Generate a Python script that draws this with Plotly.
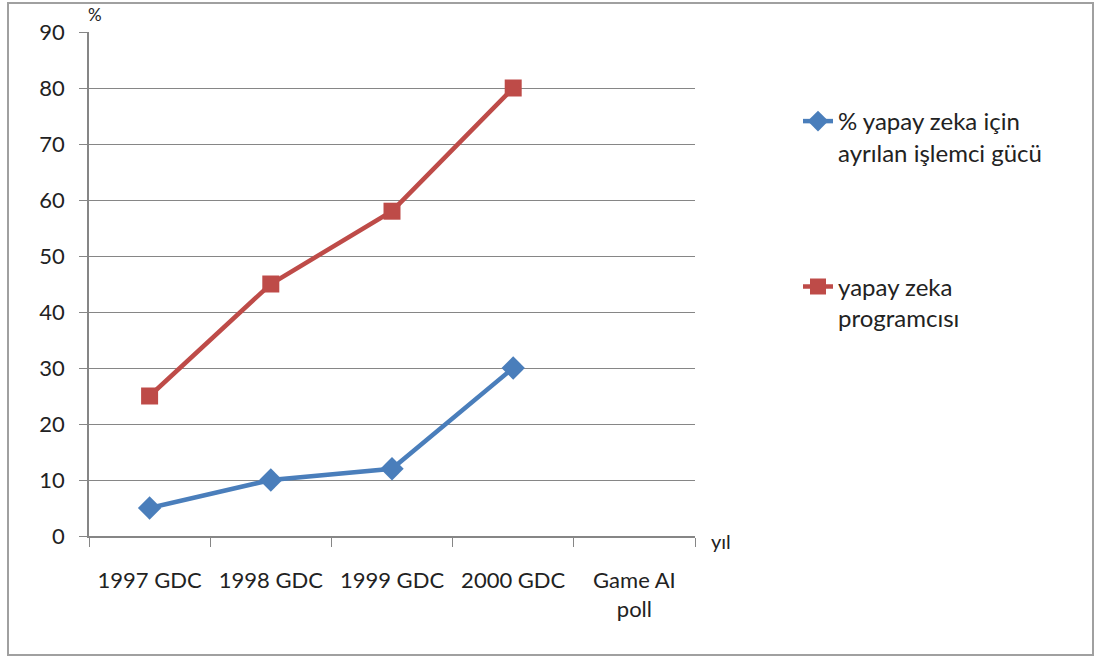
import plotly.graph_objects as go

categories = ["1997 GDC", "1998 GDC", "1999 GDC", "2000 GDC", "Game AI<br>poll"]
cpu_share = [5, 10, 12, 30, None]
ai_programmers = [25, 45, 58, 80, None]
y_ticks = [0, 10, 20, 30, 40, 50, 60, 70, 80, 90]

FONT = "Lato"
TXT = "#222222"

fig = go.Figure()
fig.add_trace(go.Scatter(
    x=categories, y=cpu_share, mode="lines+markers",
    name="% yapay zeka için<br>ayrılan işlemci gücü",
    line=dict(color="#4a7ebb", width=4.5),
    marker=dict(symbol="diamond", size=18, color="#4a7ebb"),
    legendgroup="a",
))
fig.add_trace(go.Scatter(
    x=categories, y=ai_programmers, mode="lines+markers",
    name="yapay zeka<br>programcısı",
    line=dict(color="#be4b48", width=4.5),
    marker=dict(symbol="square", size=17, color="#be4b48"),
    legendgroup="b",
))

L, R, T, B = 89, 695, 32, 536
W, H = 1097, 661
pw, ph = R - L, B - T

def px(x):
    return (x - L) / pw

def py(y):
    return (B - y) / ph

fig.update_layout(
    width=W, height=H,
    margin=dict(l=L, r=W - R, t=T, b=H - B),
    paper_bgcolor="white", plot_bgcolor="white",
    font=dict(family=FONT, size=22, color=TXT),
    showlegend=True,
    legend=dict(
        x=px(798), y=py(99), xanchor="left", yanchor="top",
        tracegroupgap=100, font=dict(size=24, family=FONT, color=TXT),
        bgcolor="rgba(0,0,0,0)", valign="top",
    ),
    xaxis=dict(
        type="category", range=[-0.5, 4.5], tickson="boundaries",
        ticks="outside", ticklen=9, tickcolor="#868686",
        showline=True, linecolor="#868686", linewidth=1.5,
        showgrid=False, tickfont=dict(size=22, family=FONT, color=TXT),
        ticklabelstandoff=24,
    ),
    yaxis=dict(
        range=[0, 90], tickvals=y_ticks, ticks="outside", ticklen=8,
        tickcolor="#868686", showline=True, linecolor="#868686", linewidth=1.5,
        showgrid=True, gridcolor="#868686", gridwidth=1.2,
        tickfont=dict(size=22, family=FONT, color=TXT), zeroline=False,
        ticklabelstandoff=10,
    ),
    annotations=[
        dict(text="%", x=px(86), y=py(15), xref="paper", yref="paper",
             xanchor="left", yanchor="middle", showarrow=False,
             font=dict(size=17, family=FONT, color=TXT)),
        dict(text="yıl", x=px(709), y=py(541), xref="paper", yref="paper",
             xanchor="left", yanchor="middle", showarrow=False,
             font=dict(size=20, family=FONT, color=TXT)),
    ],
    shapes=[
        dict(type="rect", xref="paper", yref="paper",
             x0=px(8), x1=px(1093), y0=py(3), y1=py(655),
             line=dict(color="#a0a0a0", width=2), layer="below"),
    ],
)

fig.write_html(
    "out.html",
    config={"displayModeBar": False},
    post_script="document.body.style.margin='0';document.body.style.overflow='hidden';",
)
